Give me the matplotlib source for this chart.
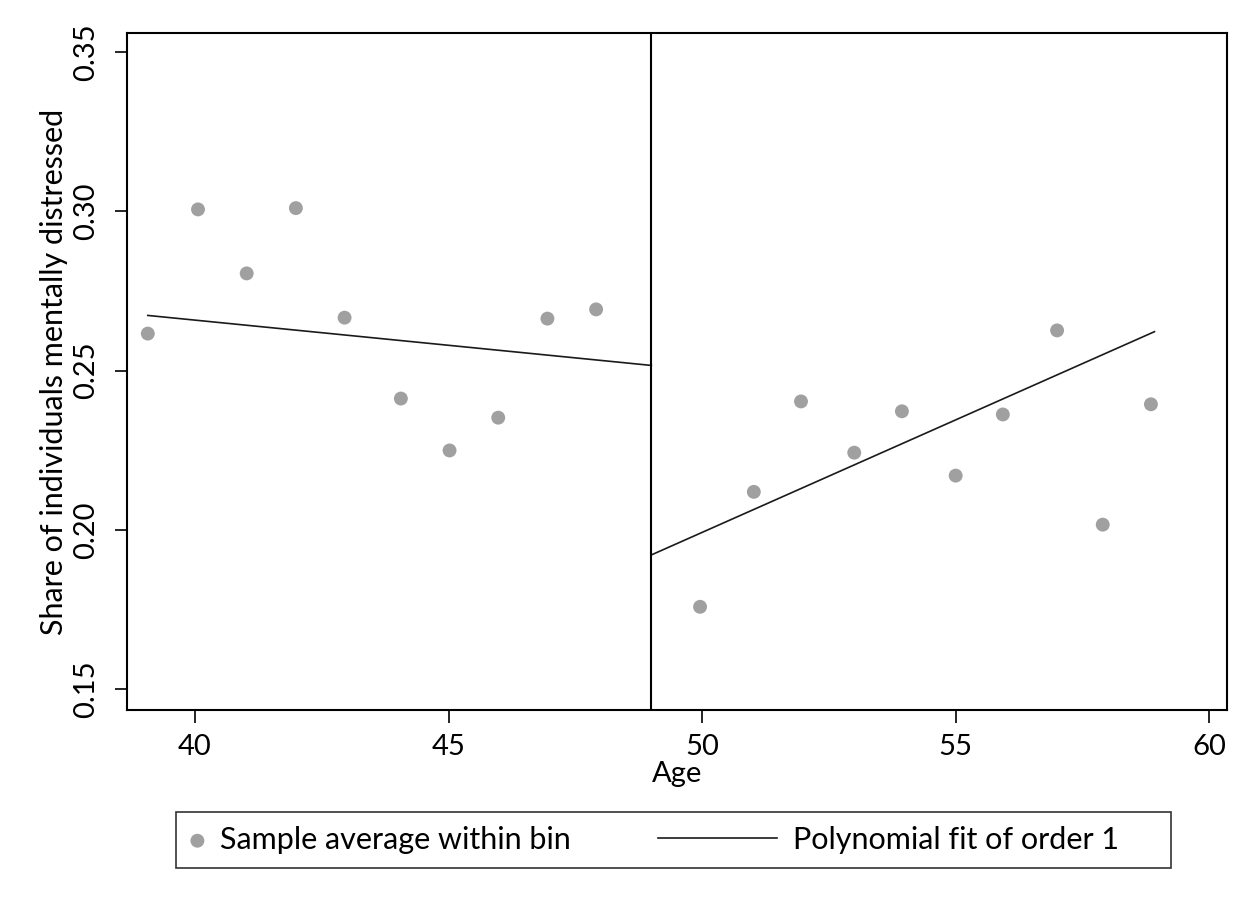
import numpy as np
import matplotlib.pyplot as plt
from matplotlib.legend_handler import HandlerLine2D

plt.rcParams['font.family'] = ['Lato', 'DejaVu Sans']

# binned sample averages
age_left = [39.07, 40.06, 41.02, 41.99, 42.95, 44.06, 45.02, 45.98, 46.95, 47.91]
share_left = [0.2616, 0.3006, 0.2805, 0.3010, 0.2666, 0.2412, 0.2249, 0.2352, 0.2663, 0.2692]
age_right = [49.96, 51.02, 51.95, 53.0, 53.94, 55.0, 55.93, 57.0, 57.9, 58.85]
share_right = [0.1758, 0.2119, 0.2403, 0.2242, 0.2372, 0.2170, 0.2362, 0.2626, 0.2016, 0.2394]

# linear fits (endpoints)
fit_left_x = [39.07, 49.0]
fit_left_y = [0.2673, 0.2516]
fit_right_x = [49.0, 58.92]
fit_right_y = [0.1921, 0.2622]

cutoff = 49.0


# legend line that reaches further left than the (short) handle box
class LongLine(HandlerLine2D):
    def create_artists(self, legend, orig_handle, xdescent, ydescent,
                       width, height, fontsize, trans):
        ext = 3.4 * fontsize
        arts = super().create_artists(legend, orig_handle, xdescent + ext, ydescent,
                                      width + ext, height, fontsize, trans)
        return arts


fig = plt.figure(figsize=(12.6, 9.16), dpi=100)
ax = fig.add_axes([0.1008, 0.2249, 0.8730, 0.7391])

pts = ax.scatter(age_left + age_right, share_left + share_right, s=100,
                 color='#a0a0a0', edgecolors='none', zorder=3,
                 label='Sample average within bin')
fit, = ax.plot(fit_left_x, fit_left_y, color='#1a1a1a', lw=1.2,
               label='Polynomial fit of order 1     ')
ax.plot(fit_right_x, fit_right_y, color='#1a1a1a', lw=1.2)
ax.axvline(cutoff, color='black', lw=1.5)

ax.set_xlim(38.66, 60.35)
ax.set_ylim(0.1434, 0.356)
ax.set_xticks([40, 45, 50, 55, 60])
ax.set_yticks([0.15, 0.20, 0.25, 0.30, 0.35])
ax.set_yticklabels(['0.15', '0.20', '0.25', '0.30', '0.35'], rotation=90, va='center')
ax.tick_params(axis='both', labelsize=21, length=9, width=1.2, direction='out')
ax.tick_params(axis='x', pad=8)
ax.tick_params(axis='y', pad=11)
for sp in ax.spines.values():
    sp.set_linewidth(1.5)

ax.set_xlabel('Age', fontsize=21, labelpad=1)
ax.set_ylabel('Share of individuals mentally distressed', fontsize=22, labelpad=4)

leg = fig.legend(handles=[pts, fit], loc='upper left', ncol=2,
                 bbox_to_anchor=(176 / 1260, 1 - 812 / 916), fontsize=22, frameon=True,
                 fancybox=False, edgecolor='black', handlelength=0.5,
                 handletextpad=0.5, columnspacing=6.25, borderpad=0.45,
                 borderaxespad=0, handler_map={fit: LongLine()})
leg.get_frame().set_linewidth(1.2)

fig.savefig('out.png', dpi=100)
